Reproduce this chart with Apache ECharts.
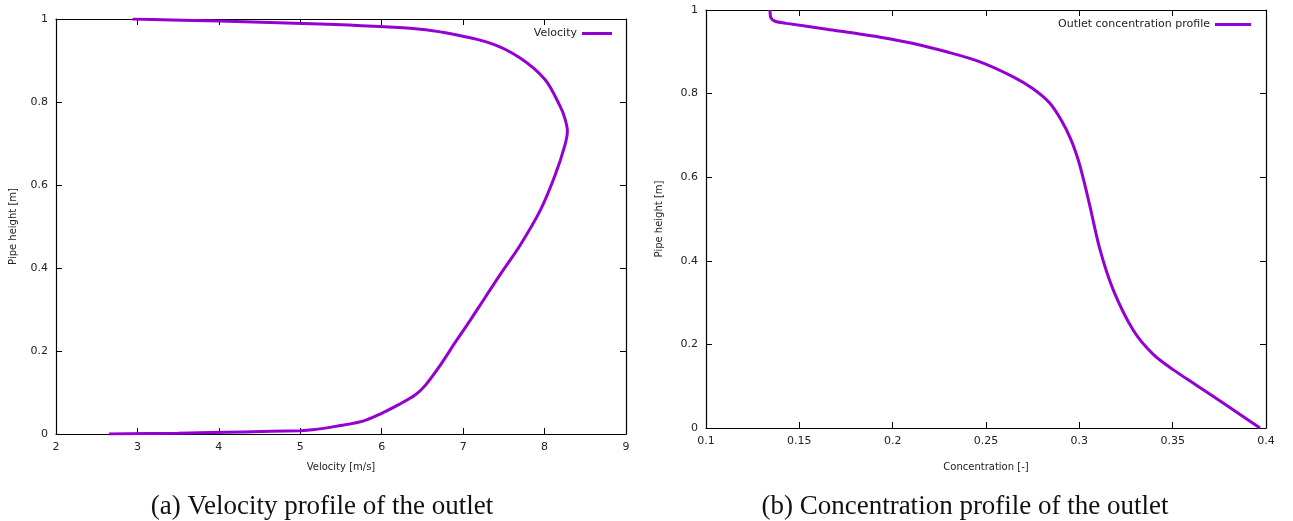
<!DOCTYPE html>
<html>
<head>
<meta charset="utf-8">
<script src="https://cdn.jsdelivr.net/npm/echarts@6/dist/echarts.min.js"></script>
<style>
  html, body { margin: 0; padding: 0; background: #fff; }
  #chart { width: 1293px; height: 521px; }
</style>
</head>
<body>
<div id="chart"></div>
<script>
// Outlet velocity profile: velocity [m/s] against pipe height [m]
const velocity = [2.65, 3.5, 4.3, 5.0, 5.15, 5.45, 5.77, 5.98, 6.22, 6.41, 6.53, 6.72, 6.90, 7.09, 7.27, 7.45, 7.70, 7.95, 8.13, 8.25, 8.28, 8.25, 8.19, 8.01, 7.70, 7.33, 6.72, 6.35, 5.24, 4.01, 2.94];
const velocityHeight = [0.0, 0.002, 0.005, 0.008, 0.010, 0.019, 0.031, 0.048, 0.072, 0.094, 0.116, 0.166, 0.220, 0.275, 0.329, 0.383, 0.455, 0.540, 0.624, 0.696, 0.730, 0.760, 0.790, 0.853, 0.906, 0.942, 0.969, 0.978, 0.988, 0.995, 1.0];

// Outlet concentration profile: concentration [-] against pipe height [m]
const concentration = [0.3968, 0.3800, 0.3625, 0.3504, 0.3396, 0.3289, 0.3182, 0.3111, 0.3057, 0.3025, 0.2995, 0.2955, 0.2905, 0.2840, 0.2750, 0.2646, 0.2468, 0.2289, 0.2111, 0.1932, 0.1647, 0.1432, 0.1370, 0.1348, 0.1343];
const concentrationHeight = [0.0, 0.051, 0.103, 0.139, 0.176, 0.234, 0.330, 0.426, 0.530, 0.590, 0.640, 0.690, 0.735, 0.778, 0.812, 0.840, 0.876, 0.900, 0.920, 0.935, 0.954, 0.968, 0.973, 0.981, 1.0];

const heightTicks = { min: 0, max: 1, interval: 0.2 };
const velocityTicks = { min: 2, max: 9, interval: 1 };
const concentrationTicks = { min: 0.1, max: 0.4, interval: 0.05 };

const lineColor = '#9400d3';
const labelFont = 'DejaVu Sans';

const velocityData = velocity.map((v, i) => [v, velocityHeight[i]]);
const concentrationData = concentration.map((c, i) => [c, concentrationHeight[i]]);

function mainAxis(range, name, gridIndex, position, extra) {
  return Object.assign({
    type: 'value', gridIndex, position,
    min: range.min, max: range.max, interval: range.interval,
    name, nameLocation: 'middle',
    nameTextStyle: { fontFamily: labelFont, fontSize: 10, color: '#222' },
    axisLine: { show: true, onZero: false, lineStyle: { color: '#000', width: 1.2 } },
    axisTick: { show: true, inside: true, length: 6, lineStyle: { color: '#000' } },
    axisLabel: { fontFamily: labelFont, fontSize: 11, color: '#222', margin: 8 },
    splitLine: { show: false }
  }, extra || {});
}

function mirrorAxis(range, gridIndex, position) {
  return {
    type: 'value', gridIndex, position,
    min: range.min, max: range.max, interval: range.interval,
    axisLine: { show: true, onZero: false, lineStyle: { color: '#000', width: 1.2 } },
    axisTick: { show: true, inside: true, length: 6, lineStyle: { color: '#000' } },
    axisLabel: { show: false },
    splitLine: { show: false }
  };
}

const captionStyle = { fontFamily: 'Liberation Serif', fontSize: 27, fontWeight: 'normal', color: '#111' };
const legendText = { fontFamily: labelFont, fontSize: 11, color: '#222' };

const chart = echarts.init(document.getElementById('chart'), null, { renderer: 'canvas' });
chart.setOption({
  animation: false,
  backgroundColor: '#fff',
  title: [
    { text: '(a) Velocity profile of the outlet', left: 322, top: 493, textAlign: 'center', padding: 0, textStyle: captionStyle },
    { text: '(b) Concentration profile of the outlet', left: 965, top: 493, textAlign: 'center', padding: 0, textStyle: captionStyle }
  ],
  legend: [
    { data: ['Velocity'], right: 1293 - 612, top: 28, padding: 0, align: 'right', icon: 'rect',
      itemWidth: 30, itemHeight: 3, itemGap: 0, textStyle: legendText },
    { data: ['Outlet concentration profile'], right: 1293 - 1251, top: 19, padding: 0, align: 'right', icon: 'rect',
      itemWidth: 36, itemHeight: 3, itemGap: 0, textStyle: legendText }
  ],
  grid: [
    { left: 56, top: 19, width: 570, height: 415 },
    { left: 706, top: 10, width: 560, height: 418 }
  ],
  xAxis: [
    mainAxis(velocityTicks, 'Velocity [m/s]', 0, 'bottom', { nameGap: 28 }),
    mirrorAxis(velocityTicks, 0, 'top'),
    mainAxis(concentrationTicks, 'Concentration [-]', 1, 'bottom', { nameGap: 34 }),
    mirrorAxis(concentrationTicks, 1, 'top')
  ],
  yAxis: [
    mainAxis(heightTicks, 'Pipe height [m]', 0, 'left', { nameGap: 38 }),
    mirrorAxis(heightTicks, 0, 'right'),
    mainAxis(heightTicks, 'Pipe height [m]', 1, 'left', { nameGap: 42 }),
    mirrorAxis(heightTicks, 1, 'right')
  ],
  series: [
    { name: 'Velocity', type: 'line', xAxisIndex: 0, yAxisIndex: 0,
      data: velocityData, smooth: 0.3, showSymbol: false, symbol: 'none',
      lineStyle: { color: lineColor, width: 3 }, itemStyle: { color: lineColor } },
    { name: 'Outlet concentration profile', type: 'line', xAxisIndex: 2, yAxisIndex: 2,
      data: concentrationData, smooth: 0.3, showSymbol: false, symbol: 'none',
      lineStyle: { color: lineColor, width: 3 }, itemStyle: { color: lineColor } }
  ]
});
</script>
</body>
</html>
